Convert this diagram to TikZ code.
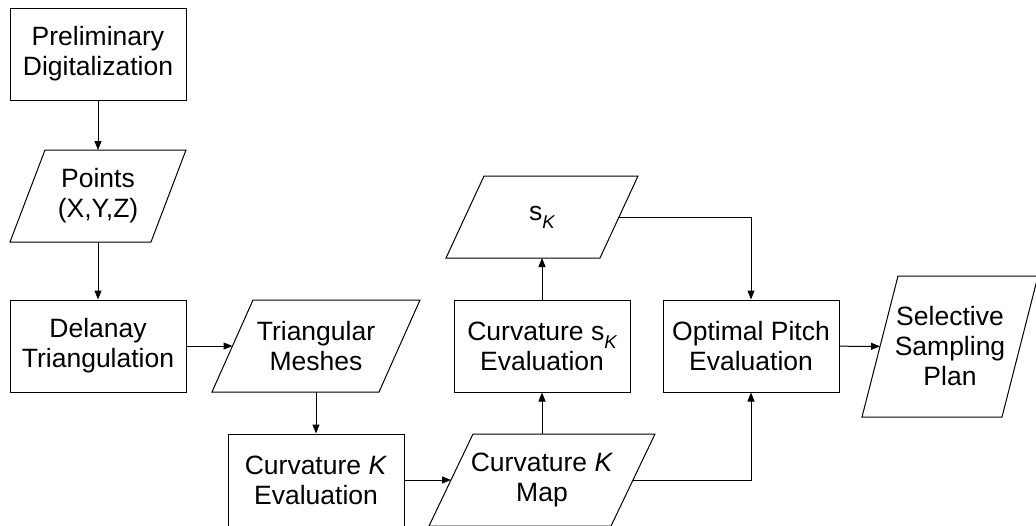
\documentclass[tikz,border=0pt]{standalone}
\usepackage{fontspec}
\setmainfont{Liberation Sans}
\usetikzlibrary{arrows.meta}

\tikzset{
  box/.style={draw, line width=1pt, minimum width=176pt, minimum height=92pt, align=center, inner sep=0pt},
  io/.style={align=center, inner sep=0pt, outer sep=0pt, minimum height=92pt},
  flow/.style={line width=1pt, -{Triangle[length=9pt,width=7pt]}}
}
% slanted frame round a data node: #1 node, #2 skew
\newcommand{\ioframe}[2]{%
  \draw[line width=1pt] ([xshift=#2/2]#1.north west) -- ([xshift=#2/2]#1.north east)
    -- ([xshift=-#2/2]#1.south east) -- ([xshift=-#2/2]#1.south west) -- cycle;}
% subscript K
\newcommand{\subK}{\raisebox{-0.3em}{\fontsize{18.5}{18.5}\selectfont\itshape K}}

\begin{document}
\begin{tikzpicture}[x=1pt,y=-1pt,font=\fontsize{26.5}{30}\selectfont]
        \useasboundingbox (0,0) rectangle (1036,525);

        \node[box] (prelim) at (98,54) {Preliminary\\Digitalization};
        \node[io, minimum width=141pt] (points) at (98,196) {Points\\(X,Y,Z)};
        \node[box] (delanay) at (98,346) {Delanay\\Triangulation};
        \node[io, minimum width=167pt] (meshes) at (316,346) {Triangular\\Meshes};
        \node[box] (curvK) at (316,480) {Curvature \textit{K}\\Evaluation};
        \node[io, minimum width=182pt] (mapK) at (542,480) {Curvature \textit{K}\\Map};
        \node[box] (curvS) at (542,346) {Curvature s\subK\\Evaluation};
        \node[io, minimum width=154pt, minimum height=82pt] (sK) at (542,217) {s\subK};
        \node[box] (pitch) at (751,346) {Optimal Pitch\\Evaluation};
        \node[io, minimum width=140pt, minimum height=141pt] (plan) at (950,346.5) {Selective\\Sampling\\Plan};

        \ioframe{points}{35}
        \ioframe{meshes}{41}
        \ioframe{mapK}{44}
        \ioframe{sK}{38}
        \ioframe{plan}{36}

        \draw[flow] (prelim) -- (points);
        \draw[flow] (points) -- (delanay);
        \draw[flow] (delanay) -- (meshes);
        \draw[flow] (meshes) -- (curvK);
        \draw[flow] (curvK) -- (mapK);
        \draw[flow] (mapK) -- (curvS);
        \draw[flow] (curvS) -- (sK);
        \draw[flow] (sK.east) -| (pitch.north);
        \draw[flow] (mapK.east) -| (pitch.south);
        \draw[flow] (pitch) -- (plan);
    \end{tikzpicture}
\end{document}
